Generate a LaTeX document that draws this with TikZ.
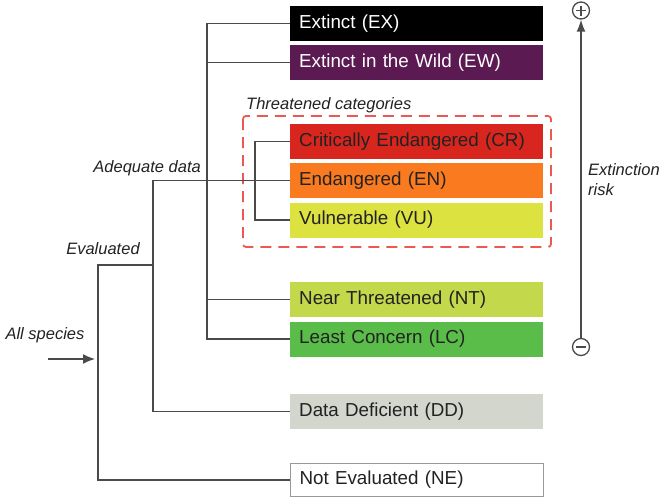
\documentclass[tikz,border=0pt]{standalone}
\usepackage{fontspec}
\setmainfont{Liberation Sans}
\usetikzlibrary{arrows.meta}
\definecolor{cEX}{HTML}{000000}
\definecolor{cEW}{HTML}{5C1A52}
\definecolor{cCR}{HTML}{D8261E}
\definecolor{cEN}{HTML}{F97A1F}
\definecolor{cVU}{HTML}{DCE23F}
\definecolor{cNT}{HTML}{C3D84A}
\definecolor{cLC}{HTML}{5ABD4A}
\definecolor{cDD}{HTML}{D2D6CC}
\definecolor{linec}{HTML}{4A4A4A}
\definecolor{dashc}{HTML}{EA5A52}
\definecolor{txtc}{HTML}{222222}
\tikzset{
  catbox/.style={anchor=west, minimum width=253pt, minimum height=35pt,
    inner xsep=9pt, inner ysep=0pt, text width=235pt, align=left,
    font=\fontsize{18.8}{20}\selectfont, text=txtc},
  tree/.style={draw=linec, line width=1.4pt},
  lab/.style={font=\fontsize{16.5}{19}\selectfont\itshape, text=txtc, inner sep=0pt},
  threat/.style={draw=dashc, line width=1.8pt, dash pattern=on 11pt off 7pt, rounded corners=3pt},
  sign/.style={circle, draw=linec, line width=1.3pt, minimum size=17pt, inner sep=0pt}
}
\begin{document}
\begin{tikzpicture}[x=1pt,y=-1pt]
\useasboundingbox (0,0) rectangle (669,498);
% boxes
\node[catbox, fill=cEX, text=white] (ex) at (290,23.5) {Extinct (EX)};
\node[catbox, fill=cEW, text=white] (ew) at (290,62.5) {Extinct in the Wild (EW)};
\node[catbox, fill=cCR] (cr) at (290,141.5) {Critically Endangered (CR)};
\node[catbox, fill=cEN] (en) at (290,180.5) {Endangered (EN)};
\node[catbox, fill=cVU] (vu) at (290,220) {Vulnerable (VU)};
\node[catbox, fill=cNT] (nt) at (290,299.5) {Near Threatened (NT)};
\node[catbox, fill=cLC] (lc) at (290,339) {Least Concern (LC)};
\node[catbox, fill=cDD] (dd) at (290,411.5) {Data Deficient (DD)};
\node[catbox, fill=white, draw=gray!80, line width=1pt, minimum height=33pt] (ne) at (290,480) {Not Evaluated (NE)};
% threatened frame
\draw[threat] (243,116) rectangle (551,247);
\node[lab, anchor=west] (thl) at (246,105) {Threatened categories};
% tree
\coordinate (ad) at (207,0);
\coordinate (th) at (255,0);
\coordinate (ev) at (153,0);
\coordinate (rt) at (98,265);
\draw[tree] (ex.west) -- (ex.west -| ad) -- (lc.west -| ad) -- (lc.west);
\draw[tree] (ew.west) -- (ew.west -| ad);
\draw[tree] (nt.west) -- (nt.west -| ad);
\draw[tree] (cr.west) -- (cr.west -| th) -- (vu.west -| th) -- (vu.west);
\draw[tree] (en.west) -- (en.west -| ev) -- (dd.west -| ev) -- (dd.west);
\draw[tree] (rt -| ev) -- (rt) -- (ne.west -| rt) -- (ne.west);
% labels
\node[lab, anchor=east] (adl) at (201,168) {Adequate data};
\node[lab] (evl) at (103,249) {Evaluated};
\node[lab] (asl) at (45,335) {All species};
\coordinate (as) at (48,359);
\coordinate (ae) at (95,359);
\draw[tree, -{Latex[length=12pt,width=10pt]}] (as) -- (ae);
% risk scale
\node[sign, path picture={
  \draw[linec, line width=1.3pt] ([xshift=3.5pt]path picture bounding box.west) -- ([xshift=-3.5pt]path picture bounding box.east);
  \draw[linec, line width=1.3pt] ([yshift=-3.5pt]path picture bounding box.north) -- ([yshift=3.5pt]path picture bounding box.south);
}] (plus) at (581,10.5) {};
\node[sign, path picture={
  \draw[linec, line width=1.3pt] ([xshift=3.5pt]path picture bounding box.west) -- ([xshift=-3.5pt]path picture bounding box.east);
}] (minus) at (581,347) {};
\draw[tree, -{Latex[length=12pt,width=9pt]}] (minus.north) -- (plus.south);
\node[lab, anchor=north west, align=left, font=\fontsize{16.5}{20}\selectfont\itshape] (risk) at (588,163) {Extinction\\risk};
\end{tikzpicture}
\end{document}
